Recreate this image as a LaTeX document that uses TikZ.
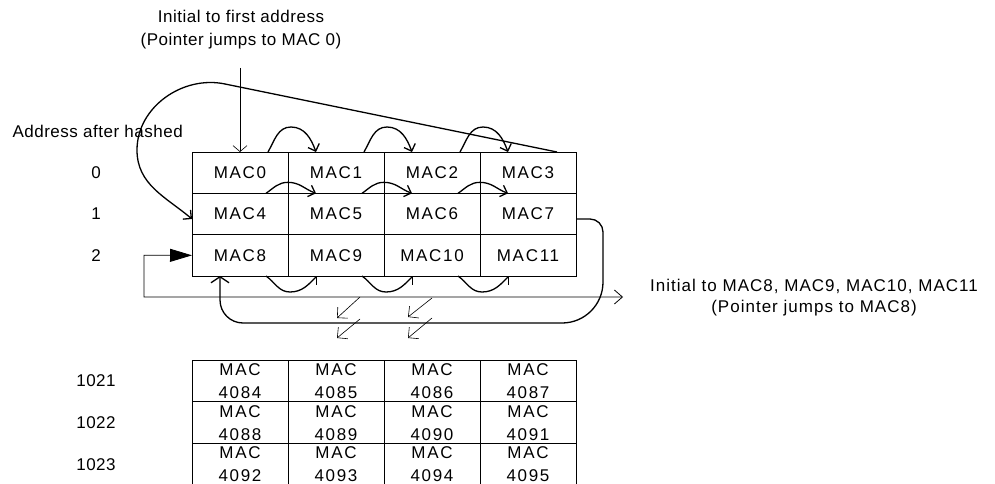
\documentclass[tikz,border=0pt]{standalone}
\usepackage{fontspec}
\setmainfont[LetterSpace=3]{Liberation Sans}
\newfontfamily\macfont[LetterSpace=10]{Liberation Sans}
\newfontfamily\notefont[LetterSpace=6]{Liberation Sans}
\usetikzlibrary{positioning}
\usetikzlibrary{arrows.meta}

\begin{document}
\begin{tikzpicture}
		[x=1pt, y=1pt, font=\fontsize{17}{21}\selectfont,
		cell/.style={rectangle, draw=black, line width=0.8pt, minimum width=96pt, minimum height=41.33pt, inner sep=0pt, outer sep=0pt, font=\fontsize{17}{21}\macfont},
		lowcell/.style={cell, minimum height=41.8pt, align=center, font=\fontsize{17}{23}\macfont},
		hop/.style={line width=1.3pt, -{Straight Barb[length=6pt, width=12pt]}},
		skip/.style={line width=0.6pt, -{Straight Barb[length=7.5pt, width=15pt]}}]
		\useasboundingbox (0,0) rectangle (995,-484);

		% first block of addresses
		\node[cell] (m0) at (240,-172.67) {MAC0};
		\node[cell, right=0pt of m0] (m1) {MAC1};
		\node[cell, right=0pt of m1] (m2) {MAC2};
		\node[cell, right=0pt of m2] (m3) {MAC3};
		\node[cell, below=0pt of m0] (m4) {MAC4};
		\node[cell, right=0pt of m4] (m5) {MAC5};
		\node[cell, right=0pt of m5] (m6) {MAC6};
		\node[cell, right=0pt of m6] (m7) {MAC7};
		\node[cell, below=0pt of m4] (m8) {MAC8};
		\node[cell, right=0pt of m8] (m9) {MAC9};
		\node[cell, right=0pt of m9] (m10) {MAC10};
		\node[cell, right=0pt of m10] (m11) {MAC11};

		% last block of addresses
		\node[lowcell] (n0) at (240,-380.9) {MAC\\4084};
		\node[lowcell, right=0pt of n0] (n1) {MAC\\4085};
		\node[lowcell, right=0pt of n1] (n2) {MAC\\4086};
		\node[lowcell, right=0pt of n2] (n3) {MAC\\4087};
		\node[lowcell, below=0pt of n0] (n4) {MAC\\4088};
		\node[lowcell, right=0pt of n4] (n5) {MAC\\4089};
		\node[lowcell, right=0pt of n5] (n6) {MAC\\4090};
		\node[lowcell, right=0pt of n6] (n7) {MAC\\4091};
		\node[lowcell, below=0pt of n4] (n8) {MAC\\4092};
		\node[lowcell, right=0pt of n8] (n9) {MAC\\4093};
		\node[lowcell, right=0pt of n9] (n10) {MAC\\4094};
		\node[lowcell, right=0pt of n10] (n11) {MAC\\4095};

		% row numbers
		\node[anchor=west] (hashnote) at (9,-131) {Address after hashed};
		\node (a0) at (96,-172.67) {0};
		\node (a1) at (96,-214) {1};
		\node (a2) at (96,-255.3) {2};
		\node (a1021) at (96,-381) {1021};
		\node (a1022) at (96,-422.8) {1022};
		\node (a1023) at (96,-464.6) {1023};

		\node[align=center, font=\fontsize{17}{23}\selectfont] (topnote) at (241,-29.5) {Initial to first address\\(Pointer jumps to MAC 0)};
		\node[align=center, font=\fontsize{17}{21}\notefont] (sidenote) at (814,-298) {Initial to MAC8, MAC9, MAC10, MAC11\\(Pointer jumps to MAC8)};

		\coordinate (drop) at (240,-68);
		\draw[line width=0.6pt, -{Straight Barb[length=6pt, width=14pt]}] (drop) -- (m0.north);

		% MAC3 wraps back to MAC4
		\draw[hop] ([xshift=-19pt]m3.north east) -- (225,-84) to[out=168,in=90] (137,-150) to[out=-90,in=140] ([yshift=-5pt]m4.west);

		\draw[hop] ([xshift=-20pt]m0.north east) to[out=60,in=180] ++(23,25) to[out=0,in=110] ([xshift=28pt]m1.north west);
		\draw[hop] ([xshift=-20pt]m1.north east) to[out=60,in=180] ++(23,25) to[out=0,in=110] ([xshift=28pt]m2.north west);
		\draw[hop] ([xshift=-20pt]m2.north east) to[out=60,in=180] ++(23,25) to[out=0,in=110] ([xshift=28pt]m3.north west);

		\draw[hop] ([xshift=-22pt]m4.north east) to[out=35,in=180] ++(22,11) to[out=0,in=160] ([xshift=28pt]m5.north west);
		\draw[hop] ([xshift=-22pt]m5.north east) to[out=35,in=180] ++(22,11) to[out=0,in=160] ([xshift=28pt]m6.north west);
		\draw[hop] ([xshift=-22pt]m6.north east) to[out=35,in=180] ++(22,11) to[out=0,in=160] ([xshift=28pt]m7.north west);

		\draw[hop] ([xshift=-22pt]m8.south east) to[out=-35,in=180] ++(24,-16) to[out=0,in=-135] ([xshift=29pt]m9.south west);
		\draw[hop] ([xshift=-22pt]m9.south east) to[out=-35,in=180] ++(24,-16) to[out=0,in=-135] ([xshift=29pt]m10.south west);
		\draw[hop] ([xshift=-22pt]m10.south east) to[out=-35,in=180] ++(24,-16) to[out=0,in=-135] ([xshift=29pt]m11.south west);

		% MAC7 wraps back to MAC8
		\draw[hop, -{Straight Barb[length=6pt, width=18pt]}] ([yshift=-5pt]m7.east) -- (590,-219) to[out=0,in=90] (603,-232) -- (603,-282) to[out=-90,in=0] (562,-323) -- (243,-323) to[out=180,in=-90] (220,-300) -- ([xshift=-20pt]m8.south);

		% start of the next group
		\coordinate (feed) at (623,-297);
		\draw[line width=0.8pt, {Straight Barb[length=8pt, width=14pt]}-{Triangle[length=22pt, width=13pt]}] (feed) -- (144,-297) -- (144,-255.3) -- (m8.west);

		\draw[skip] (360,-297) -- ++(-23,-21);
		\draw[skip] (360,-319) -- ++(-23,-19);
		\draw[skip] (432,-298) -- ++(-24,-19);
		\draw[skip] (432,-318) -- ++(-24,-20);
\end{tikzpicture}
\end{document}
